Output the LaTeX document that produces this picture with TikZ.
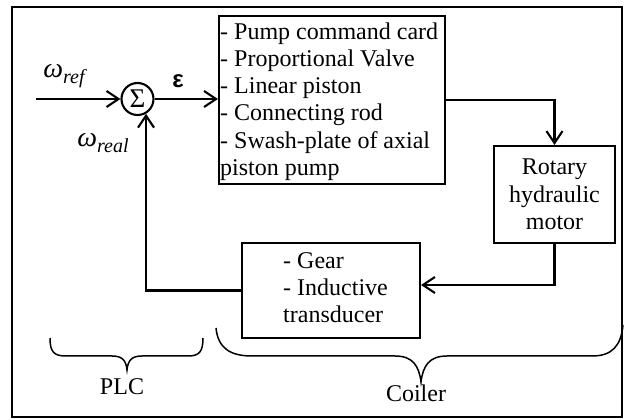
\documentclass[tikz,border=0pt]{standalone}
\usepackage{fontspec}
\setmainfont{Liberation Serif}
\newfontfamily\epsfont{Liberation Sans}
\usetikzlibrary{arrows.meta,calc}
\begin{document}
\begin{tikzpicture}[x=1pt,y=-1pt,
  every node/.style={font=\fontsize{24}{27.3}\selectfont, inner sep=0pt},
  blk/.style={draw, line width=2.1pt},
  arr/.style={line width=2.1pt, -{Straight Barb[length=12pt,width=16pt,line width=2.1pt]}},
  brc/.style={line width=1.5pt},
  omega/.style={font=\fontsize{28}{28}\selectfont\itshape},
  sub/.style={font=\fontsize{20}{20}\selectfont\itshape}]
\useasboundingbox (0,0) rectangle (625,419);
\draw[line width=1.5pt] (12,7) rectangle (622,417);

% summing junction
\node[draw, circle, line width=2.1pt, minimum size=32pt, font=\fontsize{27}{27}\selectfont] (sum) at (137.5,99) {\raisebox{1pt}{Σ}};

% blocks
\node[blk, minimum width=226pt, minimum height=168pt] (pump) at (332,100) {};
\node[anchor=west, align=left] (pumptxt) at (220,101.5) {- Pump command card\\- Proportional Valve\\- Linear piston\\- Connecting rod\\- Swash-plate of axial\\piston pump};

\node[blk, minimum width=121pt, minimum height=97pt, align=center] (motor) at (554.5,194.5) {Rotary\\hydraulic\\motor};

\node[blk, minimum width=178pt, minimum height=95pt] (gear) at (331,290.5) {};
\node[anchor=west, align=left] (geartxt) at (283,287.5) {- Gear\\- Inductive\\transducer};

% labels
\node[omega] (wref) at (64,76) {ω\raisebox{-6pt}{\fontsize{20}{20}\selectfont\itshape ref}};
\node[omega] (wreal) at (103,143) {ω\raisebox{-6pt}{\fontsize{20}{20}\selectfont\itshape real}};
\node[font=\fontsize{24}{24}\selectfont\epsfont\bfseries] (eps) at (178,81) {ε};

% connectors
\coordinate (in) at (36,99);
\draw[arr] (in) -- (sum.west);
\draw[arr] (sum.east) -- (sum.east -| pump.west);
\draw[arr] (pump.east |- 0,100) -| (motor.north);
\draw[arr] (motor.south) |- ([yshift=5.5pt]gear.east);
\draw[arr] (gear.west) -| (sum.-60);

% braces
\draw[brc] (50,338) .. controls (50,352) and (54,356) .. (66,356)
  -- (112,356) .. controls (122,356) and (126,360) .. (127,370)
  .. controls (128,360) and (132,356) .. (142,356)
  -- (188,356) .. controls (199,356) and (203,352) .. (203,338);
\node (plc) at (122,387) {PLC};

\draw[brc] (216,328) .. controls (218,348) and (230,356) .. (252,356)
  -- (395,356) .. controls (413,356) and (419,366) .. (421,382)
  .. controls (423,366) and (429,356) .. (447,356)
  -- (592,356) .. controls (612,356) and (621,346) .. (623,325);
\node (coiler) at (416,393) {Coiler};
\end{tikzpicture}
\end{document}
